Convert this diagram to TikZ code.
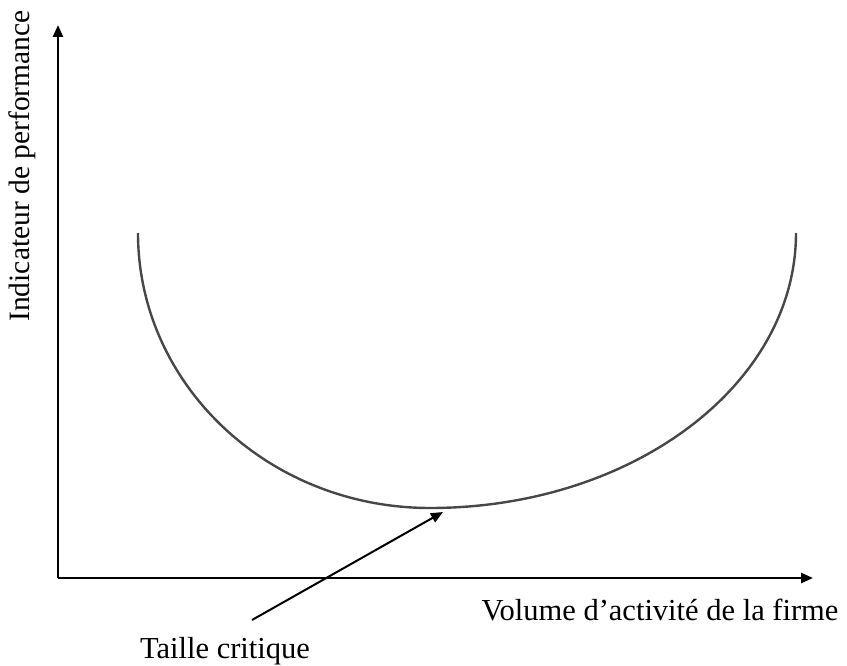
\documentclass[tikz,border=0pt]{standalone}
\usepackage{fontspec}
\setmainfont{Liberation Serif}
\usetikzlibrary{arrows.meta}
\begin{document}
\begin{tikzpicture}[x=1pt,y=-1pt,
  axis/.style={line width=2.4pt,-{Triangle[length=12pt,width=10pt]}},
  curve/.style={line width=2.4pt,draw=black!72},
  pointer/.style={line width=2pt,-{Triangle[length=12pt,width=10pt]}},
  lab/.style={font=\fontsize{30.5}{36}\selectfont,inner sep=0pt}]
\useasboundingbox (0,0) rectangle (847,666);
\coordinate (O) at (58,578);
\coordinate (ytip) at (58,25);
\coordinate (xtip) at (813,578);
\draw[axis] (O) -- (ytip);
\draw[axis] (O) -- (xtip);
\coordinate (cl) at (138,233);
\draw[curve] (cl) arc[start angle=180,end angle=90,x radius=292,y radius=275]
  arc[start angle=90,end angle=0,x radius=366,y radius=275];
\node[lab] (tc) at (225,651) {Taille critique};
\node[lab] (vol) at (660,610) {Volume d’activité de la firme};
\node[lab,rotate=90,font=\fontsize{29.5}{34}\selectfont] (ind) at (22,166) {Indicateur de performance};
\coordinate (ps) at (252,620);
\coordinate (pe) at (443,512);
\draw[pointer] (ps) -- (pe);
\end{tikzpicture}
\end{document}
